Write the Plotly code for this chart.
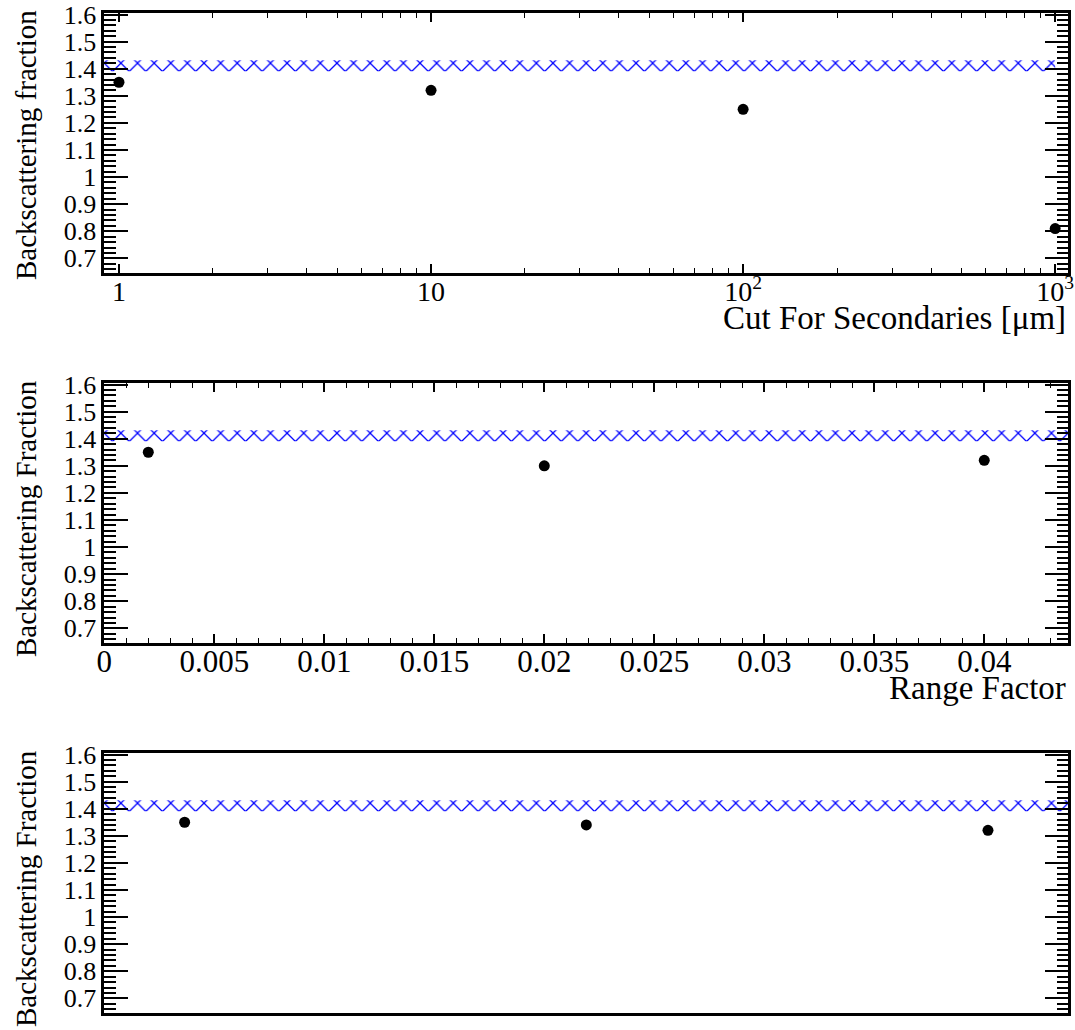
import plotly.graph_objects as go

# ---- data ----
cut_um = [1, 10, 100, 1000]
cut_frac = [1.35, 1.32, 1.25, 0.81]

range_factor = [0.002, 0.02, 0.04]
range_frac = [1.35, 1.30, 1.32]

p3_x = [1, 2, 3]
p3_frac = [1.35, 1.34, 1.32]

ref_low = 1.391
ref_high = 1.431
band1_x = [0.5, 1000]
band2_x = [-0.01, 0.06]
band3_x = [0.0, 4.0]

y_tickvals = [0.7, 0.8, 0.9, 1.0, 1.1, 1.2, 1.3, 1.4, 1.5, 1.6]
y_ticktext = ["0.7", "0.8", "0.9", "1", "1.1", "1.2", "1.3", "1.4", "1.5", "1.6"]
x1_tickvals = [1, 10, 100, 1000]
x1_ticktext = ["1", "10", "10<sup>2</sup>", "10<sup>3</sup>"]
x1_minor = [v * d for d in [1, 10, 100] for v in range(2, 10)]
x2_tickvals = [0, 0.005, 0.01, 0.015, 0.02, 0.025, 0.03, 0.035, 0.04]
x2_ticktext = ["0", "0.005", "0.01", "0.015", "0.02", "0.025", "0.03", "0.035", "0.04"]

FONT = "Liberation Serif, Times New Roman, serif"
W, H = 1075, 1030

def py(pix):
    return 1 - pix / H

xdom = [104.3 / W, 1068.3 / W]
doms = [[py(272.7), py(13.3)], [py(642.7), py(383.3)], [py(1012.7), py(753.3)]]
yrange = [0.647, 1.6045]

fig = go.Figure()

def band(xs, xa, ya):
    fig.add_trace(go.Scatter(
        x=[xs[0], xs[1], xs[1], xs[0], xs[0]],
        y=[ref_low, ref_low, ref_high, ref_high, ref_low],
        xaxis=xa, yaxis=ya, mode="lines", line=dict(width=0),
        fill="toself", fillcolor="rgba(0,0,0,0)",
        fillpattern=dict(shape="x", fgcolor="#0000ff", bgcolor="rgba(0,0,0,0)",
                         size=11.75, solidity=0.2),
        showlegend=False, hoverinfo="skip"))

def pts(xs, ys, xa, ya):
    fig.add_trace(go.Scatter(x=xs, y=ys, xaxis=xa, yaxis=ya, mode="markers",
                             marker=dict(color="black", size=11),
                             showlegend=False))

band(band1_x, "x", "y")
pts(cut_um, cut_frac, "x", "y")
band(band2_x, "x2", "y2")
pts(range_factor, range_frac, "x2", "y2")
band(band3_x, "x3", "y3")
pts(p3_x, p3_frac, "x3", "y3")

yax = dict(range=yrange, tickmode="array", tickvals=y_tickvals, ticktext=y_ticktext,
           ticks="inside", ticklen=24, tickwidth=2, tickcolor="black",
           minor=dict(dtick=0.02, tick0=0.6, ticks="inside", ticklen=12, tickwidth=1.5,
                      tickcolor="black", showgrid=False),
           showline=True, linecolor="black", linewidth=2.5, mirror="ticks",
           showgrid=False, zeroline=False, automargin=False,
           tickfont=dict(family=FONT, size=26, color="black"))

fig.update_layout(
    template="none",
    font=dict(family=FONT, color="black"),
    width=W, height=H, margin=dict(l=0, r=0, t=0, b=0),
    paper_bgcolor="white", plot_bgcolor="white",
    xaxis=dict(domain=xdom, anchor="y", type="log", range=[-0.047, 3.042],
               tickmode="array", tickvals=x1_tickvals, ticktext=x1_ticktext,
               ticks="inside", ticklen=9, tickwidth=1.5, tickcolor="black",
               minor=dict(tickmode="array", tickvals=x1_minor, ticks="inside", ticklen=5,
                          tickwidth=1.2, tickcolor="black", showgrid=False),
               showline=True, linecolor="black", linewidth=2.5, mirror="ticks",
               showgrid=False, zeroline=False, automargin=False,
               ticklabelstandoff=-8,
               tickfont=dict(family=FONT, size=28, color="black")),
    yaxis=dict(domain=doms[0], anchor="x", **yax),
    xaxis2=dict(domain=xdom, anchor="y2", range=[0, 0.04382],
                tickmode="array", tickvals=x2_tickvals, ticktext=x2_ticktext,
                ticks="inside", ticklen=9, tickwidth=1.5, tickcolor="black",
                minor=dict(dtick=0.001, tick0=0, ticks="inside", ticklen=5,
                           tickwidth=1.2, tickcolor="black", showgrid=False),
                showline=True, linecolor="black", linewidth=2.5, mirror="ticks",
                showgrid=False, zeroline=False, automargin=False,
                ticklabelstandoff=-11,
                tickfont=dict(family=FONT, size=31, color="black")),
    yaxis2=dict(domain=doms[1], anchor="x2", **yax),
    xaxis3=dict(domain=xdom, anchor="y3", range=[0.8, 3.2],
                showticklabels=False, ticks="",
                showline=True, linecolor="black", linewidth=2.5, mirror=True,
                showgrid=False, zeroline=False, automargin=False),
    yaxis3=dict(domain=doms[2], anchor="x3", **yax),
)

yt_font = dict(family=FONT, size=29, color="black")
xt_font = dict(family=FONT, size=33, color="black")
annotations = [
    dict(text="Backscattering fraction", x=26 / W, y=py(145), textangle=-90),
    dict(text="Backscattering Fraction", x=26 / W, y=py(519), textangle=-90),
    dict(text="Backscattering Fraction", x=26 / W, y=py(889), textangle=-90),
]
for a in annotations:
    fig.add_annotation(xref="paper", yref="paper", showarrow=False, font=yt_font,
                       xanchor="center", yanchor="middle", **a)
fig.add_annotation(text="Cut For Secondaries [μm]", xref="paper", yref="paper",
                   x=1068 / W, y=py(318), xanchor="right", yanchor="middle",
                   showarrow=False, font=xt_font)
fig.add_annotation(text="Range Factor", xref="paper", yref="paper",
                   x=1068 / W, y=py(688), xanchor="right", yanchor="middle",
                   showarrow=False, font=xt_font)

fig.write_html("out.html")
